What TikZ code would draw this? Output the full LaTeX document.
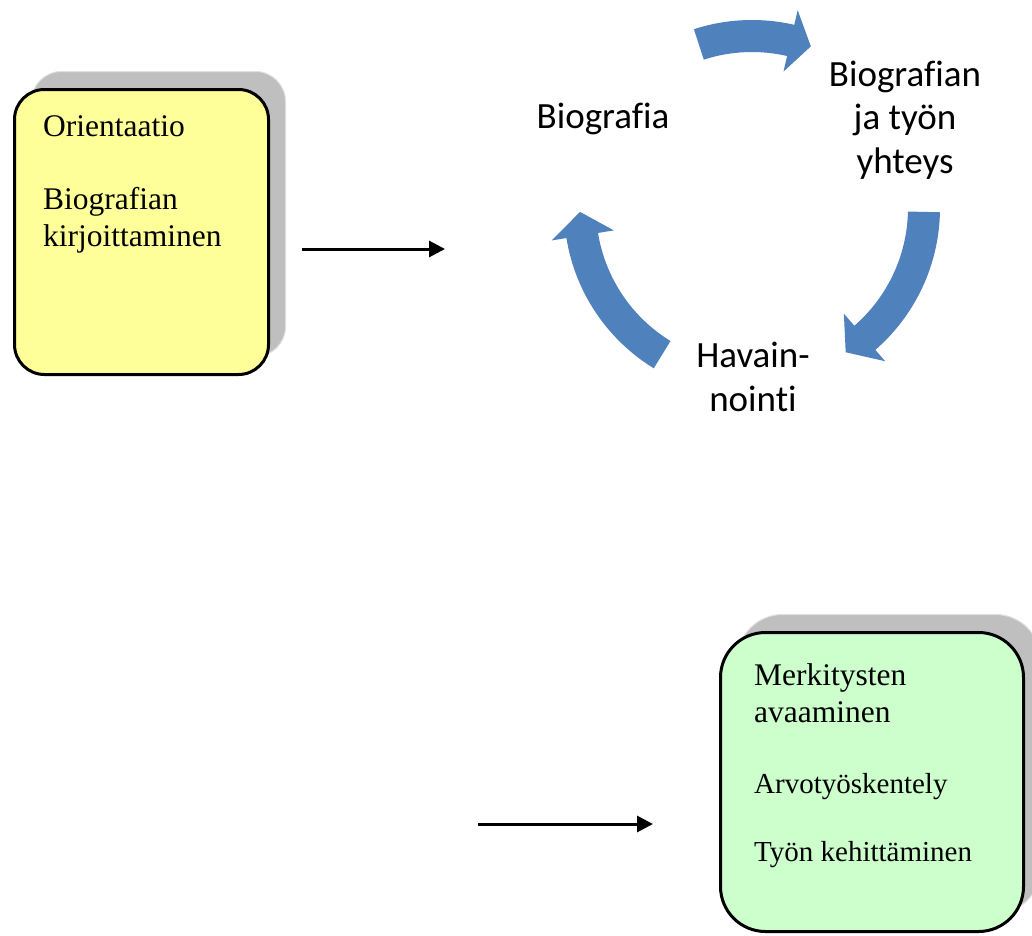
\documentclass[tikz,border=0pt]{standalone}
\usepackage{fontspec}
\setmainfont[Ligatures=NoCommon]{Liberation Serif}
\newfontfamily\cyclefont[Ligatures=NoCommon]{Carlito}
\usetikzlibrary{arrows.meta,shadows}
\definecolor{boxyellow}{HTML}{FFFF99}
\definecolor{boxgreen}{HTML}{CCFFCC}
\definecolor{cycleblue}{HTML}{4F81BD}
\newcommand{\cyclearrow}[3]{
	\fill[cycleblue] (#1:188pt) arc[start angle=#1, end angle=#2, radius=188pt]
		-- (#2:203pt) -- (#3:172pt) -- (#2:140pt) -- (#2:156pt)
		arc[start angle=#2, end angle=#1, radius=156pt] -- cycle;
}
\tikzset{
	phasebox/.style={draw=black, line width=3pt, inner sep=0pt,
		general shadow={fill=black!25, draw=black!12, line width=1pt, shadow xshift=17pt, shadow yshift=18pt}},
	boxtext/.style={anchor=north west, inner sep=0pt, align=left, font=\fontsize{31.5}{37}\selectfont},
	cyclelabel/.style={inner sep=0pt, align=center, font=\cyclefont\fontsize{37}{43.5}\selectfont},
	flowarrow/.style={line width=3pt, -{Triangle[length=16pt,width=16pt]}}
}

\begin{document}
\begin{tikzpicture}[x=1pt,y=1pt]
	\useasboundingbox (0,0) rectangle (1032,-935);

	\node[phasebox, fill=boxyellow, rounded corners=30pt, minimum width=254pt, minimum height=285pt] (orient) at (141.5,-232) {};
	\node[boxtext] (orientText) at (43,-115.5) {Orientaatio\\[36pt]Biografian\\kirjoittaminen};

	\node[phasebox, fill=boxgreen, rounded corners=45pt, minimum width=303pt, minimum height=299pt] (merkit) at (872,-782) {};
	\node[boxtext] (merkitText) at (754,-663.5) {Merkitysten\\avaaminen\\[34pt]{\fontsize{29}{37}\selectfont Arvotyöskentely}\\[31pt]{\fontsize{29}{37}\selectfont Työn kehittäminen}};

	\coordinate (cyc) at (752,-208);
	\begin{scope}[shift={(cyc)}]
		\cyclearrow{108}{77}{70}
		\cyclearrow{-1.3}{-49}{-57}
		\cyclearrow{-121.5}{-170.8}{-178.7}
	\end{scope}

	\node[cyclelabel] (bio) at (603,-119) {Biografia};
	\node[cyclelabel] (yhteys) at (905,-120) {Biografian\\ja työn\\yhteys};
	\node[cyclelabel] (havain) at (753,-377) {Havain-\\nointi};

	\coordinate (toCycle) at (302,-249);
	\coordinate (fromCycle) at (445,-249);
	\coordinate (toGreen) at (478,-824);
	\coordinate (atGreen) at (653,-824);
	\draw[flowarrow] (toCycle) -- (fromCycle);
	\draw[flowarrow] (toGreen) -- (atGreen);
\end{tikzpicture}
\end{document}
